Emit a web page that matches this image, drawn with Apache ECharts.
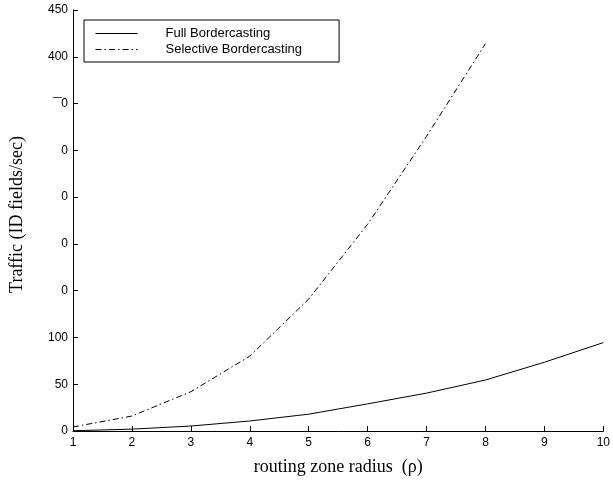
<!DOCTYPE html>
<html>
<head>
<meta charset="utf-8">
<script src="https://cdn.jsdelivr.net/npm/echarts@6/dist/echarts.min.js"></script>
<style>
  html, body { margin: 0; padding: 0; background: #fff; }
  #chart { width: 613px; height: 481px; }
</style>
</head>
<body>
<div id="chart"></div>
<script>
// zone radius values (x axis)
const radius = [1, 2, 3, 4, 5, 6, 7, 8, 9, 10];
// traffic values
const fullBordercasting = [0.3, 2, 5.3, 10.7, 18, 29, 40.5, 54.5, 73.5, 94.5];
const selectiveBordercasting = [4.3, 16, 42, 80, 141, 221, 315, 414];
// y tick labels as printed (several are clipped in the source)
const yTickLabels = ['0', '50', '100', '0', '0', '0', '0', '\u203E\u203E0', '400', '450'];

const chart = echarts.init(document.getElementById('chart'));

const toPairs = (vals) => vals.map((v, i) => [radius[i], v]);

const axisCommon = {
    axisLine: { show: true, lineStyle: { color: '#000', width: 1 } },
    axisTick: { show: true, inside: true, length: 5, lineStyle: { color: '#000' } },
    splitLine: { show: false },
    axisLabel: { color: '#000', fontFamily: 'Liberation Sans', fontSize: 12 }
};

chart.setOption({
    animation: false,
    grid: { left: 71, right: 7, top: 10, bottom: 49 },
    legend: {
        orient: 'vertical',
        left: 84,
        top: 20,
        padding: [7, 37, 6, 11],
        borderColor: '#000',
        borderWidth: 1,
        itemWidth: 42,
        itemHeight: 10,
        itemGap: 3,
        itemStyle: { opacity: 0 },
        lineStyle: { width: 1 },
        textStyle: { fontFamily: 'Liberation Sans', fontSize: 13, color: '#000', padding: [0, 0, 0, 23] },
        data: ['Full Bordercasting', 'Selective Bordercasting']
    },
    xAxis: {
        ...axisCommon,
        type: 'value',
        min: 1,
        max: 10,
        interval: 1,
        name: 'routing zone radius  (\u03C1)',
        nameLocation: 'middle',
        nameGap: 27,
        nameTextStyle: { fontFamily: 'Liberation Serif', fontSize: 18, color: '#000' },
        axisLabel: { ...axisCommon.axisLabel, margin: 6 }
    },
    yAxis: {
        ...axisCommon,
        type: 'value',
        min: 0,
        max: 450,
        interval: 50,
        name: 'Traffic (ID fields/sec)',
        nameLocation: 'middle',
        nameGap: 47,
        nameTextStyle: { fontFamily: 'Liberation Serif', fontSize: 18, color: '#000', padding: [0, 0, 0, 12] },
        axisLabel: {
            ...axisCommon.axisLabel,
            margin: 5,
            formatter: (value, index) => yTickLabels[index]
        }
    },
    series: [
        {
            name: 'Full Bordercasting',
            type: 'line',
            data: toPairs(fullBordercasting),
            symbol: 'none',
            lineStyle: { color: '#000', width: 1 },
            itemStyle: { color: '#000' }
        },
        {
            name: 'Selective Bordercasting',
            type: 'line',
            data: toPairs(selectiveBordercasting),
            symbol: 'none',
            lineStyle: { color: '#000', width: 1, type: [6, 3, 1.5, 3] },
            itemStyle: { color: '#000' }
        }
    ]
});
</script>
</body>
</html>
